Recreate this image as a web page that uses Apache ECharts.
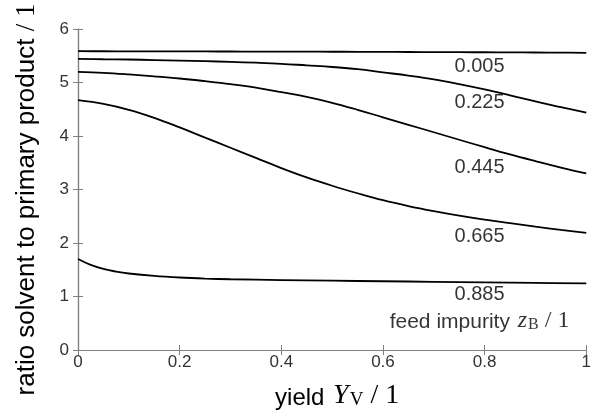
<!DOCTYPE html>
<html>
<head>
<meta charset="utf-8">
<script src="https://cdn.jsdelivr.net/npm/echarts@6/dist/echarts.min.js"></script>
<style>html,body{margin:0;padding:0;background:#fff}#c{width:594px;height:415px}</style>
</head>
<body>
<div id="c"></div>
<script>
// x grid for the four upper curves (yield Y_V)
var xs = [0, 0.05, 0.1, 0.15, 0.2, 0.25, 0.3, 0.35, 0.4, 0.45, 0.5, 0.55, 0.6, 0.65, 0.7, 0.75, 0.8, 0.85, 0.9, 0.95, 1.0];
var z005 = [5.585, 5.584, 5.583, 5.582, 5.581, 5.580, 5.579, 5.578, 5.577, 5.576, 5.575, 5.574, 5.572, 5.570, 5.568, 5.566, 5.565, 5.563, 5.561, 5.558, 5.555];
var z225 = [5.44, 5.435, 5.43, 5.42, 5.41, 5.40, 5.385, 5.37, 5.35, 5.32, 5.29, 5.25, 5.19, 5.13, 5.06, 4.97, 4.87, 4.76, 4.645, 4.54, 4.435];
var z445 = [5.20, 5.18, 5.15, 5.115, 5.075, 5.025, 4.97, 4.905, 4.82, 4.73, 4.62, 4.49, 4.35, 4.21, 4.07, 3.93, 3.79, 3.655, 3.53, 3.41, 3.30];
var z665 = [4.67, 4.60, 4.49, 4.34, 4.16, 3.97, 3.78, 3.59, 3.40, 3.225, 3.07, 2.93, 2.80, 2.69, 2.595, 2.51, 2.435, 2.37, 2.305, 2.245, 2.19];
// lowest curve has its own x grid (steeper start)
var xs885 = [0, 0.025, 0.05, 0.075, 0.1, 0.15, 0.2, 0.25, 0.3, 0.4, 0.5, 0.6, 0.7, 0.8, 0.9, 1.0];
var z885 = [1.70, 1.59, 1.515, 1.465, 1.43, 1.385, 1.355, 1.335, 1.322, 1.307, 1.295, 1.285, 1.275, 1.265, 1.255, 1.245];

var labelTexts = ['0.005', '0.225', '0.445', '0.665', '0.885', '{t|feed impurity }{m|z}{s|B}{n| / 1}'];
var labelX = [0.79, 0.79, 0.79, 0.79, 0.79, 0.79];
var labelY = [5.30, 4.62, 3.41, 2.13, 1.03, 0.57];

var xTicks = {min: 0, max: 1, interval: 0.2};
var yTicks = {min: 0, max: 6, interval: 1};

function pairs(x, y) { return x.map(function (v, i) { return [v, y[i]]; }); }

var sans = 'Liberation Sans, Arial, Helvetica, sans-serif';
var serif = 'Liberation Serif, DejaVu Serif, serif';
var axisGray = '#808080';

function rich(size, mathSize) {
  var sub = Math.round(mathSize * 0.68);
  return {
    t: {fontFamily: sans, fontSize: size, color: '#000', verticalAlign: 'bottom', lineHeight: mathSize + 2},
    m: {fontFamily: serif, fontStyle: 'italic', fontSize: mathSize, color: '#000', verticalAlign: 'bottom', lineHeight: mathSize + 2, padding: [0, 1, 0, 2]},
    s: {fontFamily: serif, fontSize: sub, color: '#000', verticalAlign: 'bottom', lineHeight: sub},
    n: {fontFamily: serif, fontSize: mathSize, color: '#000', verticalAlign: 'bottom', lineHeight: mathSize + 2}
  };
}

var curves = [z005, z225, z445, z665];
var series = curves.map(function (c) {
  return {type: 'line', data: pairs(xs, c), smooth: 0.4, symbol: 'none', silent: true,
    lineStyle: {color: '#000', width: 1.8}, xAxisIndex: 0, yAxisIndex: 0};
});
series.push({type: 'line', data: pairs(xs885, z885), smooth: 0.4, symbol: 'none', silent: true,
  lineStyle: {color: '#000', width: 1.8}, xAxisIndex: 0, yAxisIndex: 0});
series.push({
  type: 'scatter', silent: true, symbolSize: 0, itemStyle: {color: '#000'},
  data: labelX.map(function (x, i) { return {value: [x, labelY[i]], name: labelTexts[i]}; }),
  label: {show: true, position: [0, 0], align: 'center', verticalAlign: 'middle',
    formatter: function (p) { return p.name; },
    fontFamily: sans, fontSize: 20, color: '#000', rich: rich(21, 24)}
});

var chart = echarts.init(document.getElementById('c'), null, {renderer: 'canvas'});
chart.setOption({
  animation: false,
  backgroundColor: '#fff',
  grid: {left: 78, right: 4, top: 29, bottom: 63, containLabel: false},
  xAxis: [{
    type: 'value', min: xTicks.min, max: xTicks.max, interval: xTicks.interval,
    name: '{t|yield }{m|Y}{s|V}{n| / 1}', nameLocation: 'middle', nameGap: 30,
    nameTextStyle: {rich: rich(24, 28), padding: [0, 0, 0, 10]},
    axisLine: {show: true, lineStyle: {color: axisGray, width: 1.2}},
    axisTick: {show: true, inside: true, length: 5, lineStyle: {color: axisGray}},
    axisLabel: {fontFamily: sans, fontSize: 17, color: '#333', margin: 4},
    splitLine: {show: false}
  }, {
    type: 'value', position: 'top', min: xTicks.min, max: xTicks.max, interval: xTicks.interval,
    axisLine: {show: true, lineStyle: {color: axisGray, width: 1.2}},
    axisTick: {show: true, inside: true, length: 5, lineStyle: {color: axisGray}},
    axisLabel: {show: false}, splitLine: {show: false}
  }],
  yAxis: [{
    type: 'value', min: yTicks.min, max: yTicks.max, interval: yTicks.interval,
    name: '{t|ratio solvent to primary product }{n|/ 1}', nameLocation: 'middle', nameGap: 38,
    nameTextStyle: {rich: rich(26, 27), padding: [0, 20, 0, 0]},
    axisLine: {show: true, lineStyle: {color: axisGray, width: 1.2}},
    axisTick: {show: true, inside: true, length: 5, lineStyle: {color: axisGray}},
    axisLabel: {fontFamily: sans, fontSize: 17, color: '#333', margin: 9},
    splitLine: {show: false}
  }, {
    type: 'value', position: 'right', min: yTicks.min, max: yTicks.max, interval: yTicks.interval,
    axisLine: {show: true, lineStyle: {color: axisGray, width: 1.2}},
    axisTick: {show: true, inside: true, length: 5, lineStyle: {color: axisGray}},
    axisLabel: {show: false}, splitLine: {show: false}
  }],
  series: series
});
</script>
</body>
</html>
